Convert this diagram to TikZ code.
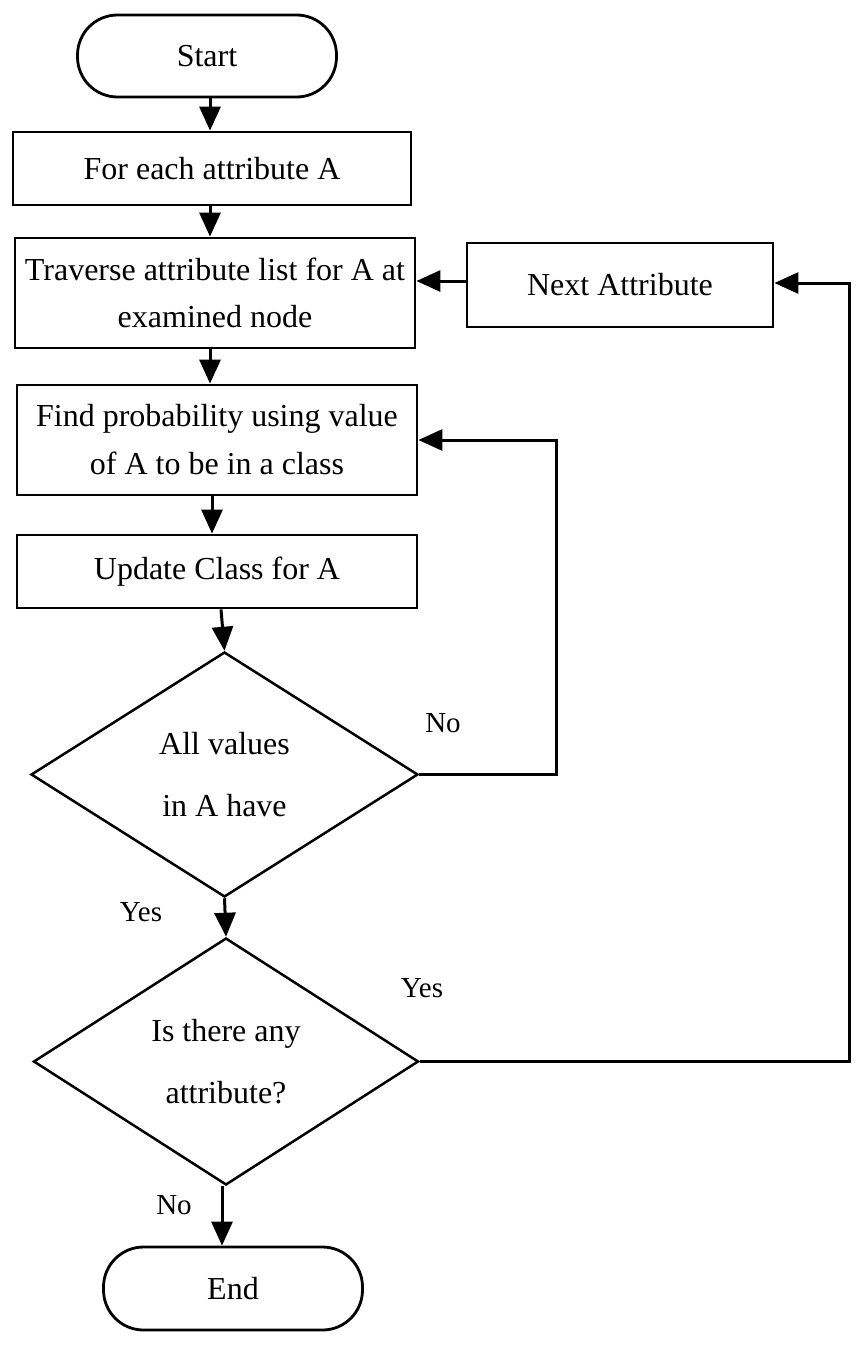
\documentclass[tikz,border=0pt]{standalone}
\usepackage{fontspec}
\setmainfont{Liberation Serif}
\usetikzlibrary{shapes.geometric,arrows.meta}
\begin{document}
\begin{tikzpicture}[x=1pt,y=-1pt,
  box/.style={draw, line width=2.8pt, rectangle, inner sep=0pt, align=center,
    font=\fontsize{32}{40}\selectfont},
  term/.style={box, rounded corners=40pt},
  dec/.style={draw, line width=2.5pt, diamond, aspect=1.58, inner sep=0pt, align=center,
    font=\fontsize{32}{40}\selectfont},
  arr/.style={line width=3pt, -{Triangle[length=24pt,width=21pt]}},
  lbl/.style={font=\fontsize{29}{34}\selectfont, inner sep=0pt}]
\useasboundingbox (0,0) rectangle (860,1346);
\fill[white] (0,0) rectangle (860,1346);

\coordinate (col) at (210,0);
\coordinate (n1) at (556,0);
\coordinate (rx) at (849,0);

\node[term, minimum width=259pt, minimum height=82pt] (start) at (207,56) {Start};
\node[box, minimum width=398pt, minimum height=73pt] (b1) at (212,168.5) {For each attribute A};
\node[box, minimum width=400pt, minimum height=110pt] (b2) at (215,293) {Traverse attribute list for A at\\[7pt]examined node};
\node[box, minimum width=306pt, minimum height=84pt] (next) at (620,285) {Next Attribute};
\node[box, minimum width=400pt, minimum height=110pt] (b3) at (217,440) {Find probability using value\\[8pt]of A to be in a class};
\node[box, minimum width=400pt, minimum height=73pt] (b4) at (217,571.5) {Update Class for A};
\node[dec, minimum width=387pt, minimum height=245pt] (d1) at (224.5,774.5) {All values\\[22pt]in A have};
\node[dec, minimum width=385pt, minimum height=247pt] (d2) at (226,1061.5) {Is there any\\[22pt]attribute?};
\node[term, minimum width=259pt, minimum height=83pt] (end) at (233,1288.5) {End};

\node[lbl] (lno1) at (443,723) {No};
\node[lbl] (lyes1) at (141,912) {Yes};
\node[lbl] (lyes2) at (422,988) {Yes};
\node[lbl] (lno2) at (174,1205) {No};

\draw[arr] (start.south -| col) -- (b1.north -| col);
\draw[arr] (b1.south -| col) -- (b2.north -| col);
\draw[arr] (b2.south -| col) -- (b3.north -| col);
\draw[arr] ([xshift=-5pt]b4.north |- b3.south) -- ([xshift=-5pt]b4.north);
\draw[arr] ([xshift=4pt]b4.south) -- (d1.north);
\draw[arr] (d1.south) -- (d2.north);
\draw[arr] ([xshift=-4pt]d2.south) -- ([xshift=-4pt]d2.south |- end.north);
\draw[arr] ([yshift=4pt]next.west) -- ([yshift=4pt]next.west -| b2.east);
\draw[arr] (d1.east) -- (d1.east -| n1) |- (b3.east);
\draw[arr] (d2.east) -- (d2.east -| rx) |- ([yshift=2pt]next.east);
\end{tikzpicture}
\end{document}
